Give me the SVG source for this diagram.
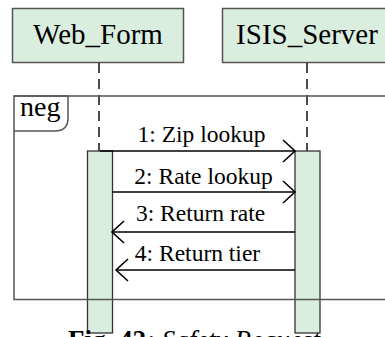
<svg xmlns="http://www.w3.org/2000/svg" width="385" height="337" viewBox="0 0 385 337">
  <style>
    .head { fill: #daeee0; stroke: #555; stroke-width: 1.5; }
    .bar { fill: #daeee0; stroke: #333; stroke-width: 1.3; }
    .life { stroke: #111; stroke-width: 1.5; stroke-dasharray: 10 6; fill: none; }
    .frame { fill: none; stroke: #555; stroke-width: 1.5; }
    .msg { stroke: #000; stroke-width: 1.6; fill: none; marker-end: url(#open); }
    text { font-family: 'Liberation Serif', 'Times New Roman', serif; fill: #000; }
    .name { font-size: 29px; text-anchor: middle; }
    .lbl { font-size: 23.5px; text-anchor: middle; }
  </style>
  <defs>
    <marker id="open" markerUnits="userSpaceOnUse" viewBox="-14 -13 16 26" refX="0" refY="0" markerWidth="16" markerHeight="26" orient="auto" overflow="visible">
      <path d="M-12,-11 L0,0 L-12,11" fill="none" stroke="#000" stroke-width="1.6"/>
    </marker>
  </defs>

  <!-- lifeline heads -->
  <g id="web_form">
    <rect class="head" x="12.5" y="8.5" width="171" height="54"/>
    <text class="name" x="98" y="44">Web_Form</text>
    <line class="life" x1="99" y1="63" x2="99" y2="151"/>
  </g>
  <g id="isis_server">
    <rect class="head" x="222.5" y="8.5" width="180" height="54"/>
    <text class="name" x="307" y="44">ISIS_Server</text>
    <line class="life" x1="307" y1="63" x2="307" y2="151"/>
  </g>

  <!-- activation bars -->
  <g id="web_form_activation">
    <rect class="bar" x="87.5" y="151" width="25" height="182"/>
  </g>
  <g id="isis_server_activation">
    <rect class="bar" x="295" y="151" width="25" height="182"/>
  </g>

  <!-- combined fragment: neg -->
  <g id="neg_fragment">
    <rect class="frame" x="14" y="96" width="400" height="203.5"/>
    <path class="frame" d="M14,96 H68 V118 Q68,131 55,131 H14"/>
    <text x="20" y="116" font-size="28">neg</text>
  </g>

  <!-- messages -->
  <g id="messages">
    <line class="msg" x1="100" y1="151" x2="295" y2="151"/>
    <line class="msg" x1="112" y1="192" x2="295" y2="192"/>
    <line class="msg" x1="295" y1="232" x2="112" y2="232"/>
    <line class="msg" x1="295" y1="270" x2="116" y2="270"/>
    <text class="lbl" x="201.5" y="142">1: Zip lookup</text>
    <text class="lbl" x="203.5" y="184">2: Rate lookup</text>
    <text class="lbl" x="200.5" y="221">3: Return rate</text>
    <text class="lbl" x="197.5" y="261">4: Return tier</text>
  </g>

  <!-- caption, running past the lower edge -->
  <text x="68" y="349" font-size="27"><tspan font-weight="bold">Fig. 42</tspan><tspan font-style="italic">: Safety Request</tspan></text>
</svg>
